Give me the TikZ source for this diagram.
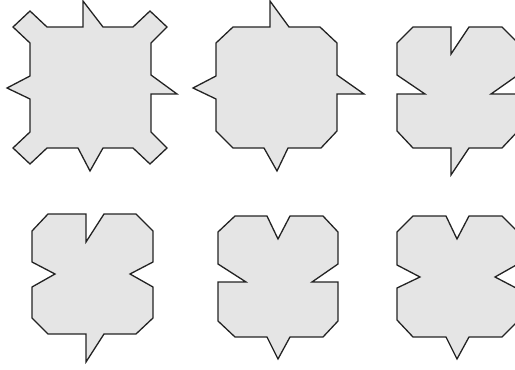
\documentclass[tikz,border=0pt]{standalone}
\usepackage{xcolor}
\usetikzlibrary{math}

\definecolor{tilegray}{RGB}{229,229,229}
\definecolor{tileline}{RGB}{35,35,35}

\begin{document}
\begin{tikzpicture}[x=1pt,y=-1pt,
  tile/.style={fill=tilegray, draw=tileline, line width=1.3pt, line join=miter}]
\tikzmath{
\s=121;
}
 \useasboundingbox (0,0) rectangle (515,370);
 \clip (0,0) rectangle (515,370);

 %top row:
 \begin{scope}[shift={(30,27)}]
 \draw[tile] (0,16) -- (-17,0) -- (0,-16) -- (17,0) -- (53,0) -- (53,-26) -- (73,0)
   -- (103,0) -- (120,-16) -- (137,0) -- (\s,16) -- (\s,48) -- (147,67) -- (\s,67)
   -- (\s,105) -- (137,121) -- (120,137) -- (103,121) -- (73,121) -- (60,144)
   -- (48,121) -- (17,121) -- (0,137) -- (-17,121) -- (0,105) -- (0,72) -- (-23,61)
   -- (0,49) -- cycle;
 \end{scope}

 \begin{scope}[shift={(216,27)}]
 \draw[tile] (0,16) -- (17,0) -- (54,0) -- (54,-26) -- (73,0) -- (104,0) -- (\s,16)
   -- (\s,48) -- (148,67) -- (\s,67) -- (\s,104) -- (105,121) -- (72,121) -- (61,144)
   -- (48,121) -- (17,121) -- (0,104) -- (0,72) -- (-23,61) -- (0,49) -- cycle;
 \end{scope}

 \begin{scope}[shift={(397,27)}]
 \draw[tile] (0,16) -- (16,0) -- (54,0) -- (54,27) -- (72,0) -- (105,0) -- (\s,16)
   -- (\s,48) -- (94,67) -- (\s,67) -- (\s,104) -- (105,121) -- (72,121) -- (54,148)
   -- (54,121) -- (16,121) -- (0,104) -- (0,67) -- (28,67) -- (0,48) -- cycle;
 \end{scope}

 %bottom row:
 \begin{scope}[shift={(32,214)}]
 \draw[tile] (0,17) -- (16,0) -- (54,0) -- (54,28) -- (72,0) -- (104,0) -- (\s,17)
   -- (\s,48) -- (98,60) -- (\s,73) -- (\s,104) -- (104,120) -- (72,120) -- (54,148)
   -- (54,120) -- (16,120) -- (0,104) -- (0,73) -- (23,60) -- (0,48) -- cycle;
 \end{scope}

 \begin{scope}[shift={(218,216)}]
 \draw[tile] (0,16) -- (17,0) -- (49,0) -- (60,23) -- (72,0) -- (105,0) -- (120,16)
   -- (120,48) -- (94,66) -- (120,66) -- (120,105) -- (105,121) -- (72,121) -- (60,143)
   -- (49,121) -- (17,121) -- (0,105) -- (0,66) -- (28,66) -- (0,48) -- cycle;
 \end{scope}

 \begin{scope}[shift={(397,216)}]
 \draw[tile] (0,16) -- (16,0) -- (49,0) -- (60,23) -- (72,0) -- (105,0) -- (\s,16)
   -- (\s,48) -- (98,61) -- (\s,73) -- (\s,105) -- (105,121) -- (72,121) -- (60,143)
   -- (49,121) -- (16,121) -- (0,104) -- (0,72) -- (23,61) -- (0,49) -- cycle;
 \end{scope}

\end{tikzpicture}
\end{document}
